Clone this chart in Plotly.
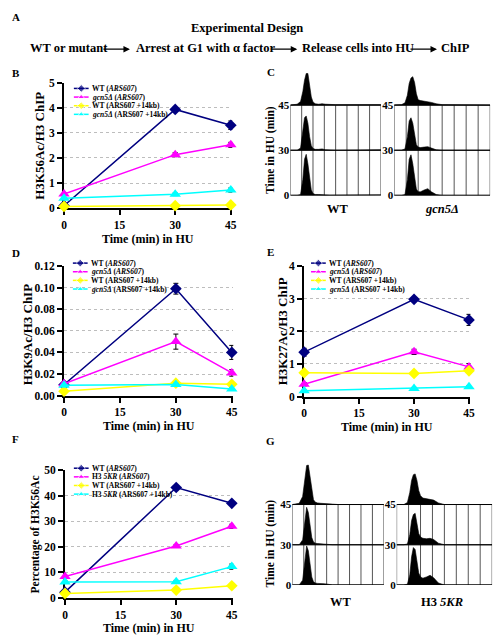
import plotly.graph_objects as go

W, H = 504, 643
SERIF = "Liberation Serif, Times New Roman, Times, serif"

# ---------------- data: line panels ----------------
TIME = [0, 30, 45]
TIME_TICKS = [0, 15, 30, 45]

B_WT = [0.10, 3.93, 3.30]
B_WT_ERR = [0.03, 0.06, 0.17]
B_MUT = [0.56, 2.13, 2.52]
B_MUT_ERR = [0.05, 0.08, 0.10]
B_WT14 = [0.07, 0.10, 0.13]
B_WT14_ERR = [0.01, 0.01, 0.02]
B_MUT14 = [0.39, 0.55, 0.72]
B_MUT14_ERR = [0.03, 0.05, 0.08]

D_WT = [0.010, 0.099, 0.040]
D_WT_ERR = [0.001, 0.005, 0.0065]
D_MUT = [0.011, 0.050, 0.021]
D_MUT_ERR = [0.001, 0.007, 0.003]
D_WT14 = [0.004, 0.0115, 0.0105]
D_WT14_ERR = [0.0005, 0.001, 0.001]
D_MUT14 = [0.0095, 0.0103, 0.006]
D_MUT14_ERR = [0.0005, 0.001, 0.001]

E_WT = [1.36, 2.98, 2.35]
E_WT_ERR = [0.12, 0.05, 0.17]
E_MUT = [0.38, 1.37, 0.91]
E_MUT_ERR = [0.05, 0.08, 0.10]
E_WT14 = [0.73, 0.71, 0.79]
E_WT14_ERR = [0.03, 0.03, 0.04]
E_MUT14 = [0.18, 0.25, 0.30]
E_MUT14_ERR = [0.02, 0.03, 0.03]

F_WT = [2.2, 43.2, 37.0]
F_WT_ERR = [0.3, 0.8, 0.5]
F_MUT = [8.3, 20.3, 28.0]
F_MUT_ERR = [0.5, 0.6, 0.8]
F_WT14 = [1.7, 3.0, 4.7]
F_WT14_ERR = [0.2, 0.3, 0.4]
F_MUT14 = [6.2, 6.3, 12.2]
F_MUT14_ERR = [0.4, 0.5, 1.0]

LABELS_GCN5 = ["WT (<i>ARS607</i>)", "<i>gcn5Δ</i> (<i>ARS607</i>)",
               "WT (ARS607 +14kb)", "<i>gcn5Δ</i> (ARS607 +14kb)"]
LABELS_5KR = ["WT (<i>ARS607</i>)", "H3 <i>5KR</i> (<i>ARS607</i>)",
              "WT (ARS607 +14kb)", "H3 <i>5KR</i> (ARS607 +14kb)"]

# ---------------- data: flow cytometry profiles ----------------
CH = [0.0, 0.6, 0.9, 1.1, 1.25, 1.4, 1.55, 1.7, 1.85, 2.0, 2.2, 2.5, 2.8, 3.1, 3.5, 4.0, 8.0]
ROW_LABELS = ["0", "30", "45"]

C_WT_0 = [0, 0, 0.02, 0.35, 0.8, 0.91, 0.7, 0.35, 0.12, 0.04, 0.02, 0.02, 0.02, 0.01, 0, 0, 0.01]
C_WT_30 = [0, 0, 0.05, 0.4, 0.72, 0.76, 0.6, 0.3, 0.1, 0.04, 0.02, 0.02, 0.03, 0.01, 0, 0, 0.01]
C_WT_45 = [0, 0.02, 0.08, 0.3, 0.55, 0.7, 0.7, 0.45, 0.18, 0.07, 0.03, 0.02, 0.03, 0.02, 0.01, 0.01, 0.01]
C_MUT_0 = [0, 0, 0.02, 0.35, 0.8, 0.9, 0.7, 0.35, 0.14, 0.08, 0.08, 0.12, 0.15, 0.08, 0.02, 0, 0]
C_MUT_30 = [0, 0, 0.03, 0.3, 0.65, 0.72, 0.6, 0.3, 0.12, 0.07, 0.06, 0.07, 0.08, 0.05, 0.01, 0, 0]
C_MUT_45 = [0, 0.01, 0.05, 0.22, 0.48, 0.6, 0.63, 0.5, 0.25, 0.12, 0.1, 0.09, 0.08, 0.06, 0.03, 0.01, 0]

G_WT_0 = [0, 0, 0.12, 0.7, 0.97, 0.85, 0.5, 0.2, 0.08, 0.05, 0.04, 0.04, 0.03, 0.02, 0, 0, 0]
G_WT_30 = [0, 0, 0.12, 0.65, 0.93, 0.8, 0.45, 0.18, 0.07, 0.04, 0.03, 0.02, 0.01, 0, 0, 0, 0]
G_WT_45 = [0, 0.03, 0.2, 0.65, 0.97, 0.98, 0.7, 0.3, 0.12, 0.06, 0.04, 0.03, 0.02, 0.01, 0.01, 0, 0]
G_MUT_0 = [0, 0, 0.02, 0.25, 0.7, 0.93, 0.88, 0.55, 0.3, 0.2, 0.17, 0.2, 0.24, 0.18, 0.05, 0, 0]
G_MUT_30 = [0, 0, 0.02, 0.25, 0.6, 0.75, 0.78, 0.55, 0.28, 0.19, 0.16, 0.15, 0.16, 0.13, 0.04, 0, 0]
G_MUT_45 = [0, 0, 0.05, 0.3, 0.6, 0.74, 0.76, 0.6, 0.35, 0.22, 0.16, 0.14, 0.13, 0.11, 0.04, 0, 0]

# ---------------- styles ----------------
COLORS = ["#000080", "#FF00FF", "#FFFF00", "#00FFFF"]
SYMBOLS = ["diamond", "triangle-up", "diamond", "triangle-up"]
SIZES = [9, 10, 9, 10]


def xd(a, b):
    return [a / W, b / W]


def yd(top, bottom):
    return [1 - bottom / H, 1 - top / H]


def bold(size):
    return dict(family=SERIF, size=size, color="black", weight="bold")


fig = go.Figure()
layout = {}
annotations = []
shapes = []

# ---------------- line panels ----------------
line_panels = [
    (1, (62, 233), (78, 206), [0, 5], 1, "d",
     [(B_WT, B_WT_ERR), (B_MUT, B_MUT_ERR), (B_WT14, B_WT14_ERR), (B_MUT14, B_MUT14_ERR)],
     LABELS_GCN5, (72, 84), "H3K56Ac/H3 ChIP", 13, (37, 142)),
    (2, (62, 234), (265, 397), [0, 0.12], 0.02, ".2f",
     [(D_WT, D_WT_ERR), (D_MUT, D_MUT_ERR), (D_WT14, D_WT14_ERR), (D_MUT14, D_MUT14_ERR)],
     LABELS_GCN5, (71, 262), "H3K9Ac/H3 ChIP", 13, (25, 335)),
    (3, (306, 475), (265, 398), [0, 4], 1, "d",
     [(E_WT, E_WT_ERR), (E_MUT, E_MUT_ERR), (E_WT14, E_WT14_ERR), (E_MUT14, E_MUT14_ERR)],
     LABELS_GCN5, (313, 262), "H3K27Ac/H3 ChIP", 13, (284, 331)),
    (4, (63, 234), (473, 603), [0, 50], 10, "d",
     [(F_WT, F_WT_ERR), (F_MUT, F_MUT_ERR), (F_WT14, F_WT14_ERR), (F_MUT14, F_MUT14_ERR)],
     LABELS_5KR, (72, 471), "Percentage of H3K56Ac", 11.5, (33, 538)),
]

LEG_LINE = 15
LEG_DY = 8.8

for (n, xpx, ypx, yr, dt, tf, series, labels, leg, ytitle, ytsize, ytpos) in line_panels:
    xa = f"x{n}" if n > 1 else "x"
    ya = f"y{n}" if n > 1 else "y"
    for i, (vals, err) in enumerate(series):
        fig.add_trace(go.Scatter(
            x=TIME, y=vals, xaxis=xa, yaxis=ya, mode="lines+markers",
            line=dict(color=COLORS[i], width=1.5),
            marker=dict(color=COLORS[i], symbol=SYMBOLS[i], size=SIZES[i]),
            error_y=dict(type="data", array=err, color="black", thickness=1, width=2.5),
            cliponaxis=False, showlegend=False, name=labels[i]))
    key = "" if n == 1 else str(n)
    layout["xaxis" + key] = dict(
        domain=xd(*xpx), range=[0, 45.4], anchor=ya, tickvals=TIME_TICKS,
        ticks="outside", ticklen=5, tickwidth=1.5, tickcolor="black",
        showline=True, linewidth=2, linecolor="black", showgrid=False, zeroline=False,
        tickfont=bold(11.5), layer="below traces", fixedrange=True)
    layout["yaxis" + key] = dict(
        domain=yd(*ypx), range=yr, anchor=xa, dtick=dt, tick0=0, tickformat=tf,
        ticks="outside", ticklen=5, tickwidth=1.5, tickcolor="black",
        showline=True, linewidth=2, linecolor="black",
        showgrid=True, gridcolor="#bdbdbd", griddash="dot", gridwidth=1, zeroline=False,
        tickfont=bold(11.5), layer="below traces", fixedrange=True)
    annotations.append(dict(
        text=ytitle, x=ytpos[0] / W, y=1 - ytpos[1] / H, xref="paper", yref="paper",
        textangle=-90, showarrow=False, xanchor="center", yanchor="middle",
        font=bold(ytsize)))
    xc = (xpx[0] + xpx[1]) / 2
    annotations.append(dict(
        text="Time (min) in HU", x=xc / W, y=1 - (ypx[1] + 31) / H, xref="paper", yref="paper",
        showarrow=False, xanchor="center", yanchor="middle", font=bold(12)))
    lx, ly = leg
    for i, lab in enumerate(labels):
        yy = ly + i * LEG_DY
        fig.add_trace(go.Scatter(
            x=[lx, lx + LEG_LINE / 2, lx + LEG_LINE], y=[yy, yy, yy], xaxis="x9", yaxis="y9",
            mode="lines+markers", line=dict(color=COLORS[i], width=1.5),
            marker=dict(color=COLORS[i], symbol=SYMBOLS[i], size=[0, 6, 0]),
            showlegend=False, hoverinfo="skip", cliponaxis=False))
        annotations.append(dict(
            text=lab, x=lx + LEG_LINE + 1, y=yy, xref="x9", yref="y9", showarrow=False,
            xanchor="left", yanchor="middle", font=bold(7.5)))

layout["xaxis9"] = dict(domain=[0, 1], range=[0, W], visible=False, anchor="y9", fixedrange=True)
layout["yaxis9"] = dict(domain=[0, 1], range=[H, 0], visible=False, anchor="x9", fixedrange=True)

# ---------------- flow cytometry panels ----------------
hist_panels = [
    (5, (292, 384), 193, 46, 2.8, [C_WT_0, C_WT_30, C_WT_45], "WT", 340, 207),
    (6, (397.5, 495), 193, 46, 2.8, [C_MUT_0, C_MUT_30, C_MUT_45], "<i>gcn5Δ</i>", 446, 207),
    (7, (294, 387), 590, 41, 3.1, [G_WT_0, G_WT_30, G_WT_45], "WT", 343, 607),
    (8, (400, 497), 590, 41, 3.1, [G_MUT_0, G_MUT_30, G_MUT_45], "H3 <i>5KR</i>", 446, 607),
]
NCOL = 8
for (n, xpx, base, row, ytop, profs, lab, labx, laby) in hist_panels:
    xa, ya = f"x{n}", f"y{n}"
    for r, prof in enumerate(profs):
        xs = CH + [CH[-1], CH[0]]
        ys = [r + h for h in prof] + [r, r]
        fig.add_trace(go.Scatter(
            x=xs, y=ys, xaxis=xa, yaxis=ya, mode="lines", fill="toself",
            fillcolor="black", line=dict(color="black", width=0.6),
            showlegend=False, hoverinfo="skip", cliponaxis=False))
    layout[f"xaxis{n}"] = dict(domain=xd(*xpx), range=[0, NCOL], visible=False,
                               anchor=ya, fixedrange=True)
    layout[f"yaxis{n}"] = dict(domain=yd(base - ytop * row, base), range=[0, ytop], anchor=xa,
                               tickvals=[0, 1, 2], ticktext=ROW_LABELS, ticks="",
                               showline=False, showgrid=False, zeroline=False,
                               tickfont=bold(11), fixedrange=True)
    for c in range(NCOL + 1):
        shapes.append(dict(type="line", xref=xa, yref=ya, x0=c, x1=c, y0=0, y1=2,
                           line=dict(color="#555555", width=1), layer="below"))
    for r in range(3):
        shapes.append(dict(type="line", xref=xa, yref=ya, x0=0, x1=NCOL, y0=r, y1=r,
                           line=dict(color="#111111", width=1.2), layer="below"))
    annotations.append(dict(
        text=lab, x=labx / W, y=1 - laby / H, xref="paper", yref="paper", showarrow=False,
        xanchor="center", yanchor="middle", font=bold(12.5)))

for (ty, cy) in [(272, 147), (272, 548)]:
    annotations.append(dict(
        text="Time in HU (min)", x=ty / W, y=1 - cy / H, xref="paper", yref="paper",
        textangle=-90, showarrow=False, xanchor="center", yanchor="middle", font=bold(11.5)))

# ---------------- panel letters ----------------
for (letter, lx, ly) in [("A", 13, 11), ("B", 13, 68), ("C", 272, 67), ("D", 13, 252),
                         ("E", 272, 251), ("F", 13, 441), ("G", 272, 443)]:
    annotations.append(dict(
        text=letter, x=lx / W, y=1 - ly / H, xref="paper", yref="paper", showarrow=False,
        xanchor="center", yanchor="middle", font=bold(11)))

# ---------------- experimental design (panel A) ----------------
annotations.append(dict(
    text="Experimental Design", x=248 / W, y=1 - 22 / H, xref="paper", yref="paper",
    showarrow=False, xanchor="center", yanchor="middle", font=bold(12.5)))
STEPS = ["WT or mutant", "Arrest at G1 with α factor", "Release cells into HU", "ChIP"]
STEP_X = [25, 133, 302, 443]
ARROWS = [(101, 129), (271, 299), (413, 441)]
for s, sx in zip(STEPS, STEP_X):
    annotations.append(dict(
        text=s, x=sx / W, y=1 - 43 / H, xref="paper", yref="paper", showarrow=False,
        xanchor="left", yanchor="middle", font=bold(12.5)))
for (a0, a1) in ARROWS:
    annotations.append(dict(
        text="", x=a1 / W, y=1 - 44 / H, xref="paper", yref="paper",
        ax=a0 - a1, ay=0, showarrow=True, arrowhead=2, arrowsize=1, arrowwidth=1.3,
        arrowcolor="black"))

fig.update_layout(
    width=W, height=H, margin=dict(l=0, r=0, t=0, b=0),
    paper_bgcolor="white", plot_bgcolor="rgba(0,0,0,0)",
    showlegend=False, annotations=annotations, shapes=shapes,
    font=dict(family=SERIF, color="black"), **layout)

fig.write_html("out.html", config={"displayModeBar": False},
               post_script="document.body.style.margin='0px';")
